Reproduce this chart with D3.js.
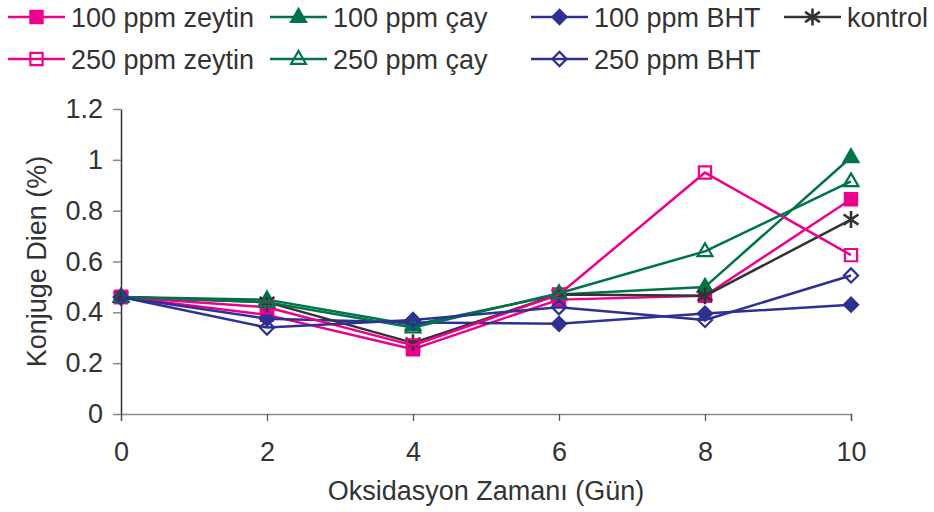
<!DOCTYPE html>
<html>
<head>
<meta charset="utf-8">
<script src="https://cdn.jsdelivr.net/npm/d3@7"></script>
<style>
  html, body { margin: 0; padding: 0; background: #fff; }
  svg { display: block; }
  text { font-family: "Liberation Sans", Arial, sans-serif; fill: #333; }
</style>
</head>
<body>
<svg id="chart" width="934" height="512"></svg>
<script>
// Oxidation time (days)
const days = [0, 2, 4, 6, 8, 10];
const xTicks = [0, 2, 4, 6, 8, 10];
const yTicks = [0, 0.2, 0.4, 0.6, 0.8, 1, 1.2];

// Conjugated diene (%) for each treatment
const zeytin100 = [0.46, 0.39, 0.255, 0.45, 0.465, 0.845];
const cay100    = [0.46, 0.45, 0.35, 0.47, 0.50, 1.01];
const bht100    = [0.46, 0.375, 0.36, 0.355, 0.395, 0.43];
const kontrol   = [0.46, 0.44, 0.28, 0.47, 0.465, 0.765];
const zeytin250 = [0.46, 0.42, 0.27, 0.47, 0.95, 0.625];
const cay250    = [0.46, 0.44, 0.34, 0.475, 0.64, 0.915];
const bht250    = [0.46, 0.34, 0.37, 0.42, 0.37, 0.545];

const PINK = "#ec008c", GREEN = "#00734a", NAVY = "#2e3192", DARK = "#333333";

const series = [
  { name: "100 ppm zeytin", values: zeytin100, color: PINK,  marker: "square",   filled: true,  col: 0, row: 0 },
  { name: "100 ppm çay",    values: cay100,    color: GREEN, marker: "triangle", filled: true,  col: 1, row: 0 },
  { name: "100 ppm BHT",    values: bht100,    color: NAVY,  marker: "diamond",  filled: true,  col: 2, row: 0 },
  { name: "kontrol",        values: kontrol,   color: DARK,  marker: "star",     filled: true,  col: 3, row: 0 },
  { name: "250 ppm zeytin", values: zeytin250, color: PINK,  marker: "square",   filled: false, col: 0, row: 1 },
  { name: "250 ppm çay",    values: cay250,    color: GREEN, marker: "triangle", filled: false, col: 1, row: 1 },
  { name: "250 ppm BHT",    values: bht250,    color: NAVY,  marker: "diamond",  filled: false, col: 2, row: 1 }
];

const svg = d3.select("#chart");
const x = d3.scaleLinear().domain([0, 10]).range([121, 851]);
const y = d3.scaleLinear().domain([0, 1.2]).range([414, 109]);

const FONT = 27;

// Axes
const xAxis = svg.append("g").attr("transform", `translate(0,${y(0)})`)
  .call(d3.axisBottom(x).tickValues(xTicks).tickSize(7).tickPadding(21).tickFormat(d3.format("d")));
xAxis.select(".domain").attr("stroke", "#8a8a8a").attr("stroke-width", 1.5);
xAxis.selectAll(".tick line").attr("stroke", "#555").attr("stroke-width", 1.3);
xAxis.selectAll("text").attr("font-size", FONT).attr("fill", "#333")
  .attr("font-family", "Liberation Sans, Arial, sans-serif");

const yAxis = svg.append("g").attr("transform", `translate(${x(0)},0)`)
  .call(d3.axisLeft(y).tickValues(yTicks).tickSize(8).tickPadding(10).tickSizeOuter(0)
    .tickFormat(d => d === 0 ? "0" : d3.format("")(+d.toFixed(1))));
yAxis.select(".domain").attr("stroke", "#333").attr("stroke-width", 1.5);
yAxis.selectAll(".tick line").attr("stroke", "#8a8a8a").attr("stroke-width", 1.5);
yAxis.selectAll("text").attr("font-size", FONT).attr("fill", "#333")
  .attr("font-family", "Liberation Sans, Arial, sans-serif");

// Axis titles
svg.append("text").attr("x", (x(0) + x(10)) / 2).attr("y", 500)
  .attr("text-anchor", "middle").attr("font-size", FONT)
  .text("Oksidasyon Zamanı (Gün)");
svg.append("text")
  .attr("transform", `translate(46,${(y(0) + y(1.2)) / 2}) rotate(-90)`)
  .attr("text-anchor", "middle").attr("font-size", FONT)
  .text("Konjuge Dien (%)");

// Marker drawing
function drawMarker(g, s, cx, cy) {
  const fill = s.filled ? s.color : "none";
  if (s.marker === "square") {
    g.append("path").attr("d", d3.symbol(d3.symbolSquare, 150)())
      .attr("transform", `translate(${cx},${cy})`)
      .attr("fill", fill).attr("stroke", s.color).attr("stroke-width", 2.2);
  } else if (s.marker === "triangle") {
    g.append("path").attr("d", d3.symbol(d3.symbolTriangle, 95)())
      .attr("transform", `translate(${cx},${cy + 0.5})`)
      .attr("fill", fill).attr("stroke", s.color).attr("stroke-width", 2.2);
  } else if (s.marker === "diamond") {
    g.append("path").attr("d", d3.symbol(d3.symbolSquare, 100)())
      .attr("transform", `translate(${cx},${cy}) rotate(45)`)
      .attr("fill", fill).attr("stroke", s.color).attr("stroke-width", 2.2);
  } else if (s.marker === "star") {
    const r = 8.5;
    const p = d3.path();
    p.moveTo(0, -r); p.lineTo(0, r);
    p.moveTo(-r * 0.87, -r * 0.6); p.lineTo(r * 0.87, r * 0.6);
    p.moveTo(-r * 0.87, r * 0.6); p.lineTo(r * 0.87, -r * 0.6);
    g.append("path").attr("d", p.toString())
      .attr("transform", `translate(${cx},${cy})`)
      .attr("fill", "none").attr("stroke", s.color).attr("stroke-width", 2.6);
  }
}

// Series lines and markers
const line = d3.line().x((d, i) => x(days[i])).y(d => y(d));
const plot = svg.append("g");
series.forEach(s => {
  const g = plot.append("g");
  g.append("path").datum(s.values).attr("d", line)
    .attr("fill", "none").attr("stroke", s.color).attr("stroke-width", 2.5)
    .attr("stroke-linejoin", "round");
  s.values.forEach((v, i) => drawMarker(g, s, x(days[i]), y(v)));
});

// Legend
const colX = [8, 270, 531, 784];
const rowY = [17, 59];
const legend = svg.append("g");
series.forEach(s => {
  const lx = colX[s.col], ly = rowY[s.row];
  const g = legend.append("g");
  g.append("line").attr("x1", lx).attr("x2", lx + 57).attr("y1", ly).attr("y2", ly)
    .attr("stroke", s.color).attr("stroke-width", 2.5);
  drawMarker(g, s, lx + 28.5, ly);
  g.append("text").attr("x", lx + 63).attr("y", ly + 9.5)
    .attr("font-size", FONT).text(s.name);
});
</script>
</body>
</html>
